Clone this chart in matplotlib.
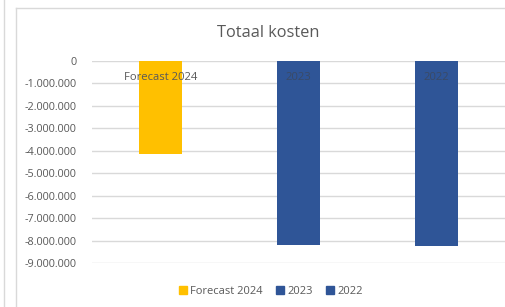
import matplotlib.pyplot as plt
from matplotlib.lines import Line2D
from matplotlib.ticker import FuncFormatter, MultipleLocator

# values
series = ['Forecast 2024', '2023', '2022']
kosten = [-4150000, -8170000, -8250000]
colors = ['#FFC000', '#2F5597', '#2F5597']
label_colors = ['#595959', '#3a4a66', '#3a4a66']

plt.rcParams['font.family'] = ['Open Sans', 'DejaVu Sans']

fig = plt.figure(figsize=(5.06, 3.07), dpi=100)
ax = fig.add_axes([92 / 506, 1 - 263.3 / 307, 413 / 506, (263.3 - 61) / 307])

xs = range(len(series))
bars = ax.bar(xs, kosten, width=0.31, color=colors, zorder=3)

for x, name, c in zip(xs, series, label_colors):
    ax.annotate(name, xy=(x, 0), xytext=(0, -16 * 72 / 100), textcoords='offset points',
                ha='center', va='center', fontsize=8.1, color=c, zorder=4)

ax.set_xlim(-0.5, 2.5)
ax.set_ylim(-9000000, 0)
ax.yaxis.set_major_locator(MultipleLocator(1000000))
ax.yaxis.set_major_formatter(FuncFormatter(lambda v, p: f"{v:,.0f}".replace(',', '.')))
ax.tick_params(axis='y', length=0, labelsize=7.8, labelcolor='#595959', pad=11)
ax.set_xticks([])
ax.grid(axis='y', color='#d9d9d9', linewidth=1, zorder=0)
for s in ax.spines.values():
    s.set_visible(False)

fig.text(268 / 506, 1 - 33 / 307, 'Totaal kosten', ha='center', va='center',
         fontsize=11.8, color='#595959')

handles = [plt.Rectangle((0, 0), 1, 1, color=c) for c in colors]
fig.legend(handles, series, loc='center', bbox_to_anchor=(271 / 506, 1 - 291 / 307),
           ncol=3, frameon=False, fontsize=8, labelcolor='#595959',
           handlelength=0.7, handleheight=0.7, handletextpad=0.3, columnspacing=1.2)

# chart area border and neighbouring panel edge
fig.add_artist(Line2D([16 / 506, 16 / 506], [0, 1 - 8 / 307], color='#d9d9d9', lw=1,
                      transform=fig.transFigure))
fig.add_artist(Line2D([16 / 506, 1], [1 - 8 / 307, 1 - 8 / 307], color='#d9d9d9', lw=1,
                      transform=fig.transFigure))
fig.add_artist(Line2D([4 / 506, 4 / 506], [0, 1], color='#d9d9d9', lw=1,
                      transform=fig.transFigure))

fig.savefig('out.png', dpi=100)
